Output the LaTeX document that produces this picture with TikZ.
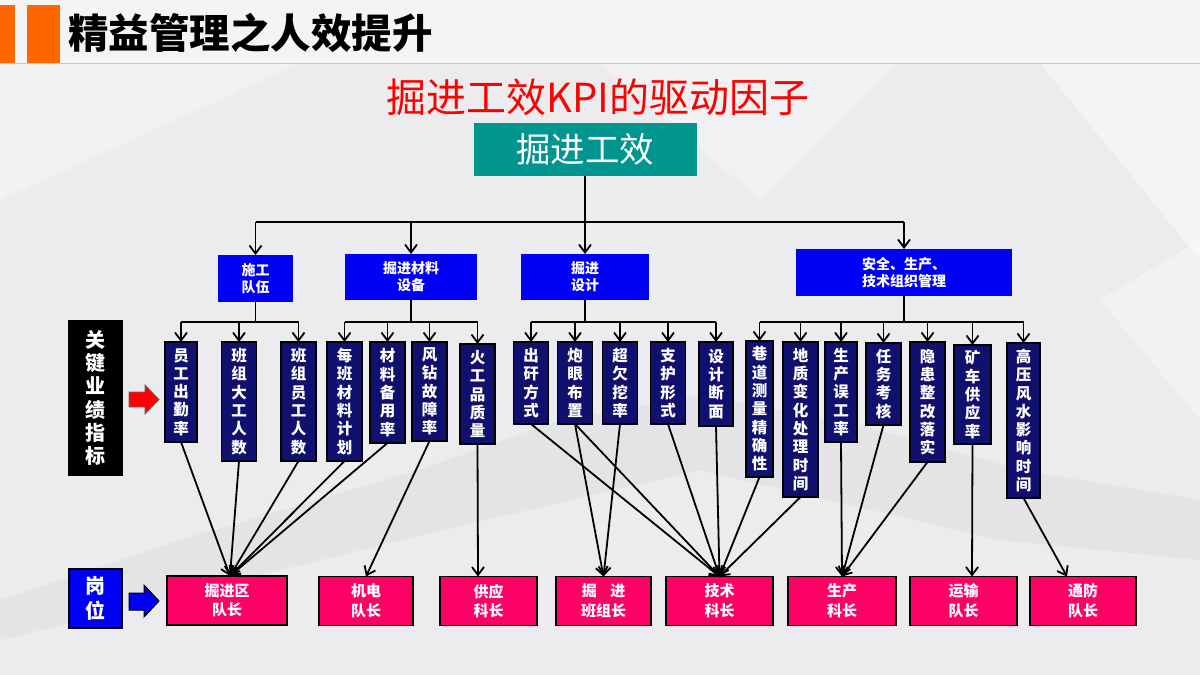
\documentclass[tikz,border=0pt]{standalone}
\usepackage{fontspec}
\setmainfont{Noto Sans CJK SC}
\usetikzlibrary{arrows.meta,calc}
\definecolor{bg}{RGB}{236,236,238}
\definecolor{bglight}{RGB}{244,244,245}
\definecolor{bgdark}{RGB}{226,226,229}
\definecolor{barorange}{RGB}{255,102,0}
\definecolor{teal}{RGB}{0,150,143}
\definecolor{catblue}{RGB}{0,0,245}
\definecolor{navy}{RGB}{16,16,110}
\definecolor{rolepink}{RGB}{255,0,102}
\definecolor{titlered}{RGB}{255,0,0}
\begin{document}
\begin{tikzpicture}[x=1pt,y=-1pt,
  every node/.style={inner sep=0pt, outer sep=0pt},
  conn/.style={line width=1.8pt, draw=black},
  arr/.style={conn, -{Straight Barb[length=8pt,width=12pt,line width=1.8pt]}},
  kpi/.style={draw=black, line width=1.2pt, fill=navy, text=white, anchor=north,
    font=\fontsize{15.5pt}{18.3pt}\selectfont\bfseries, align=center, minimum width=35pt},
  cat/.style={fill=catblue, text=white, align=center,
    font=\fontsize{14pt}{17pt}\selectfont\bfseries},
  role/.style={draw=black, line width=1.2pt, fill=rolepink, text=white, align=center,
    font=\fontsize{15pt}{19.6pt}\selectfont\bfseries, minimum height=49pt}
]
\useasboundingbox (0,0) rectangle (1200,675);
% background
\fill[bg] (0,0) rectangle (1200,675);
\fill[bglight] (0,0) rectangle (1200,63);
\fill[bgdark, opacity=0.8] (0,600) -- (180,540) -- (420,470) -- (560,420) -- (700,395) -- (860,425) -- (1020,470) -- (1200,500) -- (1200,560) -- (1000,540) -- (700,470) -- (400,540) -- (0,640) -- cycle;
\fill[white, opacity=0.45] (1040,63) -- (1200,63) -- (1200,260) -- cycle;
\fill[white, opacity=0.35] (1100,300) -- (1200,240) -- (1200,420) -- cycle;
\fill[white, opacity=0.35] (0,63) -- (300,63) -- (0,200) -- cycle;
\fill[white, opacity=0.3] (600,63) -- (900,63) -- (760,200) -- cycle;
\draw[gray!45, line width=1pt] (0,63) -- (1200,63);
% header
\fill[barorange] (0,5) rectangle (15,63);
\fill[barorange] (27,5) rectangle (60,63);
\node[anchor=west, font=\fontsize{40.5pt}{44pt}\selectfont\bfseries] (title) at (68,33) {精益管理之人效提升};
\node[text=titlered, font=\fontsize{40pt}{44pt}\selectfont] (subtitle) at (598,97) {掘进工效KPI的驱动因子};
% root
\node[fill=teal, text=white, minimum width=223pt, minimum height=53pt,
  font=\fontsize{34.5pt}{40pt}\selectfont] (top) at (585,149.5) {掘进工效};
% categories
\node[cat, minimum width=75pt, minimum height=47pt] (sg) at (255.5,278.5) {施工\\队伍};
\node[cat, minimum width=132pt, minimum height=46pt] (cl) at (411,277) {掘进材料\\设备};
\node[cat, minimum width=128pt, minimum height=46pt] (sj) at (585,277) {掘进\\设计};
\node[cat, minimum width=216pt, minimum height=47pt] (aq) at (904,272.5) {安全、生产、\\技术组织管理};
% KPI boxes
\node[kpi, minimum width=32pt, minimum height=100pt] (k1) at (181,342) {员\\工\\出\\勤\\率};
\node[kpi, minimum height=119pt] (k2) at (239,342) {班\\组\\大\\工\\人\\数};
\node[kpi, minimum height=119pt] (k3) at (298.5,342) {班\\组\\员\\工\\人\\数};
\node[kpi, minimum height=119pt] (k4) at (344.5,342) {每\\班\\材\\料\\计\\划};
\node[kpi, minimum height=101pt] (k5) at (387.5,342) {材\\料\\备\\用\\率};
\node[kpi, minimum height=99pt] (k6) at (429.5,342) {风\\钻\\故\\障\\率};
\node[kpi, minimum height=100pt] (k7) at (477.5,344) {火\\工\\品\\质\\量};
\node[kpi, minimum height=82pt] (k8) at (531,342) {出\\矸\\方\\式};
\node[kpi, minimum height=82pt] (k9) at (575,342) {炮\\眼\\布\\置};
\node[kpi, minimum height=82pt] (k10) at (620,342) {超\\欠\\挖\\率};
\node[kpi, minimum height=82pt] (k11) at (668,342) {支\\护\\形\\式};
\node[kpi, minimum width=34pt, minimum height=84pt] (k12) at (716,342) {设\\计\\断\\面};
\node[kpi, minimum width=27pt, minimum height=136pt] (k13) at (759.5,341) {巷\\道\\测\\量\\精\\确\\性};
\node[kpi, minimum height=155pt] (k14) at (800.5,342) {地\\质\\变\\化\\处\\理\\时\\间};
\node[kpi, minimum width=32pt, minimum height=100pt] (k15) at (841,342) {生\\产\\误\\工\\率};
\node[kpi, minimum height=82pt] (k16) at (883.5,343) {任\\务\\考\\核};
\node[kpi, minimum height=120pt] (k17) at (927.5,342) {隐\\患\\整\\改\\落\\实};
\node[kpi, minimum width=37pt, minimum height=99pt] (k18) at (972.5,345) {矿\\车\\供\\应\\率};
\node[kpi, minimum width=33pt, minimum height=155pt] (k19) at (1023.5,343) {高\\压\\风\\水\\影\\响\\时\\间};
% side labels
\node[fill=black, text=white, minimum width=55pt, minimum height=156pt, align=center,
  font=\fontsize{20pt}{23.3pt}\selectfont\bfseries] (kpilabel) at (95.5,398) {关\\键\\业\\绩\\指\\标};
\node[fill=catblue, draw=black, line width=1.2pt, text=white, minimum width=53pt, minimum height=59pt, align=center,
  font=\fontsize{20pt}{25pt}\selectfont\bfseries] (gw) at (95.5,598.5) {岗\\位};
\draw[fill=red, draw=black!60, line width=0.8pt] (129,392) -- (145,392) -- (145,385) -- (159,399.5) -- (145,414) -- (145,407) -- (129,407) -- cycle;
\draw[fill=catblue, draw=black, line width=1pt] (129,593) -- (144,593) -- (144,585) -- (159,601) -- (144,617) -- (144,610) -- (129,610) -- cycle;
% roles
\node[role, minimum width=120pt] (p1) at (227,600.5) {掘进区\\队长};
\node[role, minimum width=94pt] (p2) at (366,601) {机电\\队长};
\node[role, minimum width=97pt] (p3) at (488.5,601) {供应\\科长};
\node[role, minimum width=95pt] (p4) at (603.5,601) {掘\hspace{0.9em}进\\班组长};
\node[role, minimum width=107pt] (p5) at (719.5,601) {技术\\科长};
\node[role, minimum width=108pt] (p6) at (842,601) {生产\\科长};
\node[role, minimum width=107pt] (p7) at (963.5,601) {运输\\队长};
\node[role, minimum width=106pt] (p8) at (1083,601) {通防\\队长};
% main tree connectors
\coordinate (busA) at (0,222);
\coordinate (busB) at (0,322);
\draw[arr] (top.south) -- (sj.north);
\draw[conn] (sg.north |- busA) -- (aq.north |- busA);
\foreach \n in {sg,cl,aq} \draw[arr] (\n.north |- busA) -- (\n.north);
\draw[conn] (sg.south) -- (sg.south |- busB);
\draw[conn] (k1.north |- busB) -- (k3.north |- busB);
\foreach \n in {k1,k2,k3} \draw[arr] (\n.north |- busB) -- (\n.north);
\draw[conn] (cl.south) -- (cl.south |- busB);
\draw[conn] (k4.north |- busB) -- (k7.north |- busB);
\foreach \n in {k4,k5,k6,k7} \draw[arr] (\n.north |- busB) -- (\n.north);
\draw[conn] (sj.south) -- (sj.south |- busB);
\draw[conn] (k8.north |- busB) -- (k12.north |- busB);
\foreach \n in {k8,k9,k10,k11,k12} \draw[arr] (\n.north |- busB) -- (\n.north);
\draw[conn] (aq.south) -- (aq.south |- busB);
\draw[conn] (k13.north |- busB) -- (k19.north |- busB);
\foreach \n in {k13,k14,k15,k16,k17,k18,k19} \draw[arr] (\n.north |- busB) -- (\n.north);
% KPI -> roles
\coordinate (t1) at ($(p1.north)+(3,0)$);
\coordinate (t3) at ($(p3.north)+(-10.5,0)$);
\coordinate (t7) at ($(p7.north)+(8.5,0)$);
\coordinate (t8) at ($(p8.north)+(-16,0)$);
\foreach \n in {k1,k2,k3,k4,k5} \draw[arr] (\n.south) -- (t1);
\draw[arr] (k6.south) -- (p2.north);
\draw[arr] (k7.south) -- (t3);
\foreach \n in {k9,k10} \draw[arr] (\n.south) -- (p4.north);
\foreach \n in {k8,k9,k11,k12,k13,k14} \draw[arr] (\n.south) -- (p5.north);
\foreach \n in {k15,k16,k17} \draw[arr] (\n.south) -- (p6.north);
\draw[arr] (k18.south) -- (t7);
\draw[arr] (k19.south) -- (t8);
\end{tikzpicture}
\end{document}
